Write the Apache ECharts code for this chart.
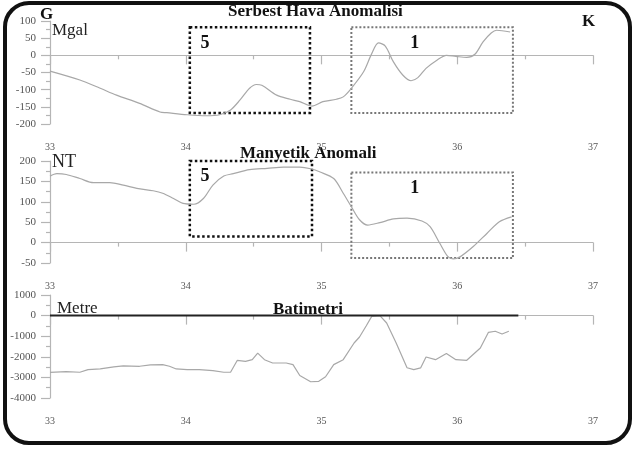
<!DOCTYPE html>
<html>
<head>
<meta charset="utf-8">
<script src="https://cdn.jsdelivr.net/npm/echarts@6/dist/echarts.min.js"></script>
<style>
  html, body { margin: 0; padding: 0; background: #fff; }
  #chart { width: 635px; height: 449px; }
</style>
</head>
<body>
<div id="chart"></div>
<script>
// boylam (x) ekseni ve değerler
const xTicks = [33, 34, 35, 36, 37]

const gravity = [
  [33, -46], [33.22, -72], [33.37, -96], [33.49, -116], [33.66, -140], [33.81, -165],
  [33.86, -167], [34.01, -173], [34.15, -176], [34.25, -173], [34.33, -159], [34.4, -130],
  [34.47, -96], [34.52, -85], [34.56, -87], [34.67, -116], [34.77, -128], [34.84, -135],
  [34.93, -148], [35.01, -135], [35.11, -128], [35.16, -121], [35.22, -96], [35.31, -48],
  [35.37, 5], [35.42, 36], [35.47, 27], [35.53, -19], [35.6, -58], [35.66, -74],
  [35.71, -65], [35.77, -38], [35.85, -14], [35.92, 0], [35.99, -3], [36.07, -6],
  [36.13, 3], [36.19, 39], [36.25, 65], [36.29, 73], [36.39, 68],
]

const magnetic = [
  [33, 163], [33.05, 169], [33.12, 167], [33.22, 157], [33.32, 147], [33.44, 147],
  [33.54, 141], [33.64, 133], [33.76, 127], [33.83, 121], [33.91, 108], [33.98, 96],
  [34.06, 94], [34.13, 108], [34.2, 141], [34.28, 163], [34.35, 169], [34.47, 179],
  [34.6, 182], [34.72, 185], [34.84, 185], [34.92, 181], [34.99, 173], [35.09, 157],
  [35.16, 121], [35.22, 88], [35.28, 56], [35.34, 43], [35.43, 49], [35.53, 58],
  [35.63, 60], [35.74, 53], [35.8, 39], [35.87, -1], [35.93, -34], [35.97, -40],
  [36.02, -35], [36.12, -9], [36.22, 23], [36.31, 51], [36.4, 63],
]

const bathymetry = [
  [33, -2754], [33.12, -2720], [33.22, -2750], [33.28, -2620], [33.37, -2590], [33.47, -2490],
  [33.54, -2440], [33.66, -2460], [33.74, -2390], [33.83, -2380], [33.88, -2460], [33.93, -2590],
  [34.01, -2620], [34.1, -2620], [34.2, -2670], [34.28, -2750], [34.33, -2750], [34.38, -2170],
  [34.44, -2220], [34.49, -2140], [34.53, -1820], [34.58, -2140], [34.64, -2300], [34.74, -2300],
  [34.79, -2380], [34.84, -2910], [34.92, -3210], [34.98, -3190], [35.03, -2970], [35.09, -2380],
  [35.16, -2140], [35.24, -1330], [35.28, -1040], [35.33, -490], [35.37, -40], [35.43, 0],
  [35.48, -360], [35.55, -1330], [35.63, -2530], [35.68, -2620], [35.73, -2540], [35.77, -2010],
  [35.84, -2140], [35.92, -1840], [35.99, -2140], [36.07, -2170], [36.17, -1570], [36.23, -810],
  [36.28, -760], [36.33, -890], [36.38, -760],
]

// çalışma alanları (kutular)
const gravityBoxes = [
  { name: '5', x: [34.03, 34.915], y: [82, -168] },
  { name: '1', x: [35.22, 36.41], y: [82, -168] },
]
const magneticBoxes = [
  { name: '5', x: [34.03, 34.93], y: [226, 15] },
  { name: '1', x: [35.22, 36.41], y: [172, -38] },
]
const seaLevel = [[33, 0], [36.45, 0]]

const serif = 'Liberation Serif'
const axisColor = '#b5b5b5'

function xAxisFor(gridIndex) {
  return {
    type: 'value',
    gridIndex,
    min: xTicks[0],
    max: xTicks[xTicks.length - 1],
    interval: 1,
    axisLine: { lineStyle: { color: axisColor, width: 1.2 } },
    axisTick: { length: 9, lineStyle: { color: axisColor, width: 1.2 } },
    minorTick: { show: true, splitNumber: 2, length: 4, lineStyle: { color: axisColor, width: 1.2 } },
    axisLabel: { margin: 18, color: '#555', fontFamily: serif, fontSize: 10 },
    splitLine: { show: false },
  }
}

function yAxisFor(gridIndex, min, max, interval) {
  return {
    type: 'value',
    gridIndex,
    min,
    max,
    interval,
    axisLine: { show: true, lineStyle: { color: axisColor, width: 1.2 } },
    axisTick: { show: true, length: 9, lineStyle: { color: axisColor, width: 1.2 } },
    minorTick: { show: true, splitNumber: 2, length: 4, lineStyle: { color: axisColor, width: 1.2 } },
    axisLabel: { margin: 14, color: '#555', fontFamily: serif, fontSize: 11, formatter: (v) => String(v) },
    splitLine: { show: false },
  }
}

function boxArea(boxes) {
  return {
    silent: true,
    data: boxes.map((b) => {
      const dark = b.name === '5'
      return [
        {
          xAxis: b.x[0],
          yAxis: b.y[0],
          itemStyle: {
            color: 'rgba(0,0,0,0)',
            borderColor: dark ? '#111' : '#777',
            borderWidth: dark ? 2.5 : 2,
            borderType: 'dotted',
          },
          label: {
            show: true,
            formatter: b.name,
            position: dark ? [12, 8] : [60, 8],
            color: '#111',
            fontFamily: serif,
            fontWeight: 'bold',
            fontSize: 18,
          },
        },
        { xAxis: b.x[1], yAxis: b.y[1] },
      ]
    }),
  }
}

const lineStyle = { color: '#a8a8a8', width: 1.2 }

const option = {
  animation: false,
  backgroundColor: '#fff',
  grid: [
    { left: 50, right: 42, top: 21, height: 103 },
    { left: 50, right: 42, top: 161, height: 102 },
    { left: 50, right: 42, top: 295, height: 103 },
  ],
  xAxis: [xAxisFor(0), xAxisFor(1), xAxisFor(2)],
  yAxis: [
    yAxisFor(0, -200, 100, 50),
    yAxisFor(1, -50, 200, 50),
    yAxisFor(2, -4000, 1000, 1000),
  ],
  graphic: [
    {
      type: 'rect',
      shape: { x: 5, y: 3, width: 625, height: 440, r: 24 },
      style: { fill: 'none', stroke: '#111', lineWidth: 4 },
      z: 100,
    },
    { type: 'text', left: 40, top: 6, style: { text: 'G', font: `bold 17px "${serif}"`, fill: '#111' } },
    { type: 'text', left: 582, top: 13, style: { text: 'K', font: `bold 17px "${serif}"`, fill: '#111' } },
    { type: 'text', left: 228, top: 3, style: { text: 'Serbest Hava Anomalisi', font: `bold 17px "${serif}"`, fill: '#111' } },
    { type: 'text', left: 52, top: 22, style: { text: 'Mgal', font: `17px "${serif}"`, fill: '#222' } },
    { type: 'text', left: 240, top: 145, style: { text: 'Manyetik Anomali', font: `bold 17px "${serif}"`, fill: '#111' } },
    { type: 'text', left: 52, top: 153, style: { text: 'NT', font: `18px "${serif}"`, fill: '#222' } },
    { type: 'text', left: 57, top: 300, style: { text: 'Metre', font: `17px "${serif}"`, fill: '#222' } },
    { type: 'text', left: 273, top: 301, style: { text: 'Batimetri', font: `bold 17px "${serif}"`, fill: '#111' } },
  ],
  series: [
    {
      name: 'Serbest Hava Anomalisi',
      type: 'line',
      xAxisIndex: 0,
      yAxisIndex: 0,
      data: gravity,
      symbol: 'none',
      smooth: 0.3,
      lineStyle,
      markArea: boxArea(gravityBoxes),
    },
    {
      name: 'Manyetik Anomali',
      type: 'line',
      xAxisIndex: 1,
      yAxisIndex: 1,
      data: magnetic,
      symbol: 'none',
      smooth: 0.3,
      lineStyle,
      markArea: boxArea(magneticBoxes),
    },
    {
      name: 'Batimetri',
      type: 'line',
      xAxisIndex: 2,
      yAxisIndex: 2,
      data: bathymetry,
      symbol: 'none',
      lineStyle,
    },
    {
      name: 'Deniz seviyesi',
      type: 'line',
      xAxisIndex: 2,
      yAxisIndex: 2,
      data: seaLevel,
      symbol: 'none',
      lineStyle: { color: '#222', width: 2 },
    },
  ],
}

const chart = echarts.init(document.getElementById('chart'))
chart.setOption(option)
</script>
</body>
</html>
